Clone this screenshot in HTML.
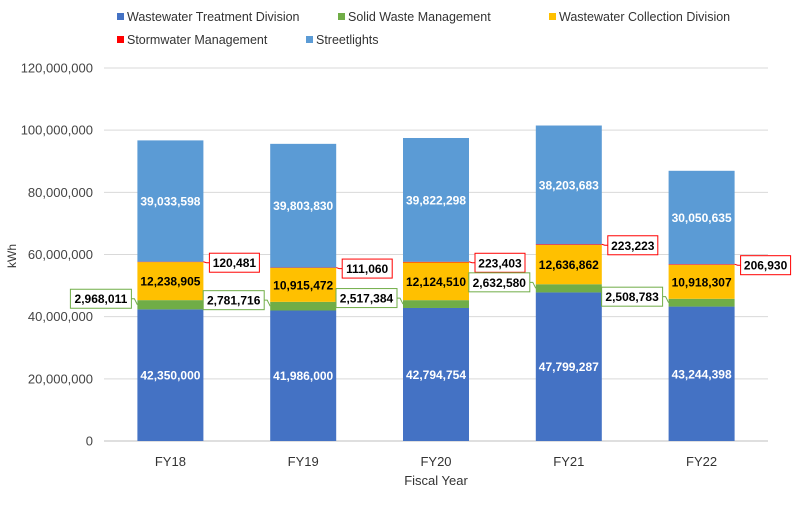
<!DOCTYPE html>
<html><head><meta charset="utf-8"><style>
body{margin:0;background:#fff;font-family:"Liberation Sans",Arial,sans-serif}
svg text{font-family:"Liberation Sans",Arial,sans-serif}
</style></head><body>
<svg id="chart" width="793" height="500" xmlns="http://www.w3.org/2000/svg">
<g id="legend"></g>
<g id="grid"></g>
<g id="yaxis"></g>
<g id="bars"></g>
<g id="xaxis"></g>
<text x="0" y="0" transform="translate(16,256) rotate(-90)" text-anchor="middle" font-size="12" fill="#333">kWh</text>
<text x="436" y="485" text-anchor="middle" font-size="13" fill="#333">Fiscal Year</text>
</svg>
<script>
const categories=["FY18","FY19","FY20","FY21","FY22"];
const treatment=[42350000,41986000,42794754,47799287,43244398];
const solidWaste=[2968011,2781716,2517384,2632580,2508783];
const collection=[12238905,10915472,12124510,12636862,10918307];
const stormwater=[120481,111060,223403,223223,206930];
const streetlights=[39033598,39803830,39822298,38203683,30050635];
const yTicks=[0,20000000,40000000,60000000,80000000,100000000,120000000];
const seriesNames=["Wastewater Treatment Division","Solid Waste Management","Wastewater Collection Division","Stormwater Management","Streetlights"];

const NS="http://www.w3.org/2000/svg";
const colors=["#4472C4","#70AD47","#FFC000","#FF0000","#5B9BD5"];
const x0=104,x1=768,yBase=441,yTop=68,yMax=120000000;
const y=v=>yBase-(v/yMax)*(yBase-yTop);
const band=(x1-x0)/categories.length;
const cx=i=>x0+band*(i+0.5);
const bw=66;
function mk(tag,attrs,parent,text){const e=document.createElementNS(NS,tag);for(const k in attrs)e.setAttribute(k,attrs[k]);if(text!==undefined)e.textContent=text;parent.appendChild(e);return e;}
const fmt=v=>v.toLocaleString("en-US");

const grid=document.getElementById("grid"),yaxis=document.getElementById("yaxis");
yTicks.forEach(t=>{
  const l=mk("line",{x1:x0,x2:x1,y1:y(t),y2:y(t),stroke:t===0?"#bfbfbf":"#d9d9d9","stroke-width":1},grid);
  
  
  const tx=mk("text",{x:93,y:y(t)+4.5,"text-anchor":"end","font-size":13,fill:"#444"},yaxis,fmt(t));
  
  
});

const legend=document.getElementById("legend");
const legPos=[[117,18],[338,18],[549,18],[117,41],[306,41]];
seriesNames.forEach((n,i)=>{
  const g=mk("g",{},legend);
  
  
  mk("rect",{x:legPos[i][0],y:legPos[i][1]-5,width:7,height:7,fill:colors[i]},g);
  mk("text",{x:legPos[i][0]+10,y:legPos[i][1]+3,"font-size":12.5,fill:"#333"},g,n);
});

const bars=document.getElementById("bars"),xaxis=document.getElementById("xaxis");
const series=[treatment,solidWaste,collection,stormwater,streetlights];
categories.forEach((c,i)=>{
  let base=0;const left=cx(i)-bw/2;
  const segs=[];
  series.forEach((s,k)=>{
    const v=s[i];const r=mk("rect",{x:left,y:y(base+v),width:bw,height:y(base)-y(base+v),fill:colors[k]},bars);
    
    
    segs.push([base,base+v]);base+=v;
  });
  // inside labels
  [[0,"#fff"],[2,"#000"],[4,"#fff"]].forEach(([k,col])=>{
    const m=(segs[k][0]+segs[k][1])/2;
    const t=mk("text",{x:cx(i),y:y(m)+4.5,"text-anchor":"middle","font-size":12,"font-weight":"bold",fill:col},bars,fmt(series[k][i]));
    
    
  });
  // green callout (left)
  const gm=y((segs[1][0]+segs[1][1])/2);const gy=gm-6;const gw=61,gh=19;const gx=left-gw-6;
  mk("polyline",{points:`${gx+gw},${gy} ${left-3},${gy} ${left},${gm}`,fill:"none",stroke:"#70AD47","stroke-width":1},bars);
  const gb=mk("rect",{x:gx,y:gy-gh/2,width:gw,height:gh,fill:"#fff",stroke:"#70AD47","stroke-width":1},bars);
  
  
  mk("text",{x:gx+gw/2,y:gy+4.5,"text-anchor":"middle","font-size":12,"font-weight":"bold",fill:"#000"},bars,fmt(solidWaste[i]));
  // red callout (right)
  const ry=y(segs[3][1]);const rx=left+bw+6;const rw=50,rh=19;const rcy=ry+1;
  mk("polyline",{points:`${left+bw},${ry} ${left+bw+3},${rcy} ${rx},${rcy}`,fill:"none",stroke:"#FF0000","stroke-width":1},bars);
  const rb=mk("rect",{x:rx,y:rcy-rh/2,width:rw,height:rh,fill:"#fff",stroke:"#FF0000","stroke-width":1},bars);
  
  
  mk("text",{x:rx+rw/2,y:rcy+4.5,"text-anchor":"middle","font-size":12,"font-weight":"bold",fill:"#000"},bars,fmt(stormwater[i]));
  const xl=mk("text",{x:cx(i),y:466,"text-anchor":"middle","font-size":13,fill:"#333"},xaxis,c);
  
  
});
</script>
</body></html>
